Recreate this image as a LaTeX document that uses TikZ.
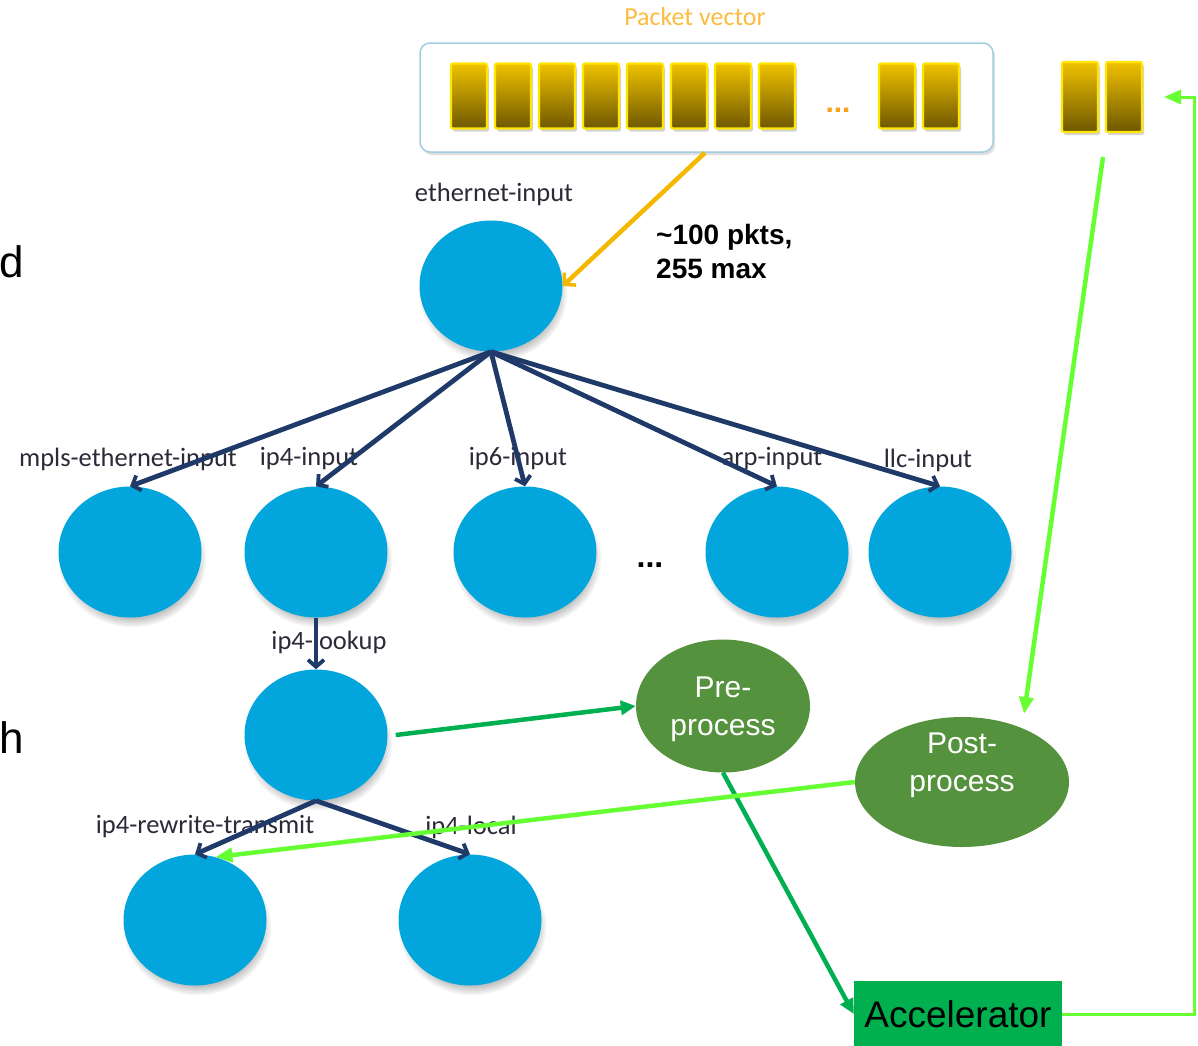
\documentclass[tikz,border=0pt]{standalone}
\usepackage{fontspec}
\setmainfont{Carlito}
\newfontfamily\arialf{Liberation Sans}
\usetikzlibrary{arrows.meta,shapes.geometric,shadows,calc}

\definecolor{nodeblue}{HTML}{02A6DC}
\definecolor{navy}{HTML}{1F3A68}
\definecolor{procgreen}{HTML}{55923E}
\definecolor{accgreen}{HTML}{00B04F}
\definecolor{lime}{HTML}{66FF33}
\definecolor{flowgreen}{HTML}{00B050}
\definecolor{pvorange}{HTML}{FBBC3F}
\definecolor{feedorange}{HTML}{F5B800}
\definecolor{dotorange}{HTML}{F7A21B}
\definecolor{labelcol}{HTML}{2A2A38}
\definecolor{pktedge}{HTML}{FFE600}
\definecolor{pkttop}{HTML}{F0C200}
\definecolor{pktbot}{HTML}{6E5700}
\definecolor{boxedge}{HTML}{9FCFE0}

\begin{document}
\begin{tikzpicture}[x=1pt,y=-1pt,
  vnode/.style={ellipse, fill=nodeblue, minimum width=143pt, minimum height=131pt,
    inner sep=0pt, circular drop shadow={shadow scale=1.04, shadow xshift=2pt,
    shadow yshift=-7pt, opacity=0.5}},
  lbl/.style={font=\fontsize{26.5}{30}\selectfont, text=labelcol, inner sep=0pt},
  pkt/.style={draw=pktedge, line width=2.2pt, rounded corners=2pt,
    top color=pkttop, bottom color=pktbot, minimum width=36pt, minimum height=65pt,
    inner sep=0pt, drop shadow={shadow xshift=2pt, shadow yshift=-3pt, opacity=0.35}},
  tree/.style={draw=navy, line width=4.8pt,
    -{Straight Barb[length=7pt,width=16pt,line width=3.8pt]}},
  proc/.style={ellipse, fill=procgreen, inner sep=0pt},
  proctext/.style={text=white, inner sep=0pt, align=center,
    font=\arialf\fontsize{30}{38}\selectfont},
  flow/.style={draw=flowgreen, line width=4.5pt, -{Triangle[length=15pt,width=14pt]}},
  back/.style={draw=lime, line width=4.5pt, -{Triangle[length=17pt,width=14pt]}},
]
\useasboundingbox (0,0) rectangle (1198,1045);

% packet vector
\node[font=\fontsize{26}{30}\selectfont, text=pvorange] (pvtitle) at (695,17) {Packet vector};
\node[draw=boxedge, line width=1.5pt, fill=white, rounded corners=10pt,
  minimum width=573pt, minimum height=109pt, inner sep=0pt,
  drop shadow={shadow xshift=2pt, shadow yshift=-3pt, opacity=0.25}] (pv) at (706.5,97.5) {};
\foreach \i/\x in {1/469,2/513,3/557,4/601,5/645,6/689,7/733,8/777,9/897,10/941}
  \node[pkt] (b\i) at (\x,96) {};
\node[font=\arialf\bfseries\fontsize{30}{30}\selectfont, text=dotorange] (pvdots) at (838,110) {...};

% packets returned from the accelerator
\node[pkt, minimum height=70pt] (c1) at (1080,97) {};
\node[pkt, minimum height=70pt] (c2) at (1124,97) {};

% cut-off slide text
\node[anchor=west, font=\arialf\fontsize{44}{44}\selectfont, inner sep=0pt] (tx1) at (-1,262) {d};
\node[anchor=west, font=\arialf\fontsize{44}{44}\selectfont, inner sep=0pt] (tx2) at (-1,738) {h};

% graph nodes
\node[vnode] (eth) at (491,286) {};
\node[vnode] (mpls) at (130,552) {};
\node[vnode] (ip4) at (316,552) {};
\node[vnode] (ip6) at (525,552) {};
\node[vnode] (arp) at (777,552) {};
\node[vnode] (llc) at (940,552) {};
\node[vnode] (lk) at (316,735) {};
\node[vnode] (rw) at (195,920) {};
\node[vnode] (loc) at (470,920) {};
\node[font=\arialf\bfseries\fontsize{32}{32}\selectfont] (more) at (650,565) {...};

% node names
\node[lbl] (leth) at (494,194) {ethernet-input};
\node[lbl] (lmpls) at (128,459) {mpls-ethernet-input};
\node[lbl] (lip4) at (309,459) {ip4-input};
\node[lbl] (lip6) at (518,459) {ip6-input};
\node[lbl] (larp) at (772,459) {arp-input};
\node[lbl] (lllc) at (928,460) {llc-input};
\node[lbl] (llk) at (329,642) {ip4-lookup};
\node[lbl] (lrw) at (205,827) {ip4-rewrite-transmit};
\node[lbl] (lloc) at (471,827) {ip4-local};

\node[align=left, anchor=north west, inner sep=0pt,
  font=\arialf\bfseries\fontsize{28}{34}\selectfont] (batch) at (656,224) {\textasciitilde100 pkts,\\255 max};

% accelerator path
\node[proc, minimum width=174pt, minimum height=133pt] (pre) at (723,706) {};
\node[proctext] (pretext) at (723,709) {Pre-\\process};
\node[proc, minimum width=214pt, minimum height=130pt] (post) at (962,782) {};
\node[proctext] (posttext) at (962,765) {Post-\\process};
\node[fill=accgreen, minimum width=208pt, minimum height=66pt, inner sep=0pt,
  font=\arialf\fontsize{37}{37}\selectfont] (acc) at (958,1014) {Accelerator};

% edges of the graph
\draw[feedorange, line width=4.5pt, -{Straight Barb[length=8pt,width=17pt,line width=3.5pt]}]
  ([xshift=-1.5pt]pv.south) -- (eth.east);
\foreach \t in {mpls,ip4,ip6,arp,llc}
  \draw[tree] (eth.south) -- (\t.north);
\draw[tree] (ip4.south) -- (lk.north);
\draw[tree] (lk.south) -- (rw.north);
\draw[tree] (lk.south) -- (loc.north);

\draw[flow] ([xshift=8pt]lk.east) -- (pre.west);
\draw[flow] (pre.south) -- (acc.west);

\coordinate (pairout) at (1103,157);
\coordinate (postin) at (1024,714);
\coordinate (rtop) at (1194,97);
\coordinate (pairin) at (1164,97);
\draw[back] (pairout) -- (postin);
\draw[back] (post.west) -- (rw.72);
\draw[lime, line width=3pt, -{Triangle[length=17pt,width=14pt]}]
  (acc.east) -| (rtop) -- (pairin);
\end{tikzpicture}
\end{document}
